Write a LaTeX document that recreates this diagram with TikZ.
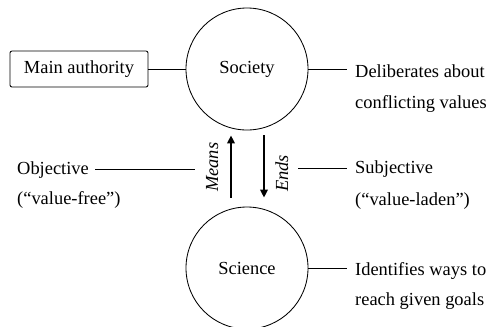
\documentclass[tikz,border=0pt]{standalone}
\usepackage{fontspec}
\setmainfont{Liberation Serif}
\usetikzlibrary{arrows.meta}
\begin{document}
\begin{tikzpicture}[x=1bp,y=-1bp,
  txt/.style={font=\fontsize{18.5}{22}\selectfont, inner sep=0pt, anchor=base west},
  itxt/.style={font=\fontsize{18.5}{22}\selectfont\itshape, inner sep=0pt, rotate=90, anchor=base west},
  conn/.style={line width=0.85bp},
  bigc/.style={circle, draw, line width=0.85bp, minimum size=122bp, inner sep=0pt, font=\fontsize{18.5}{22}\selectfont},
  arr/.style={line width=2.4bp, -{Triangle[length=8bp,width=7.5bp]}}]
\useasboundingbox (0,0) rectangle (490,326);
% circles
\node[bigc] (soc) at (247,69) {Society};
\node[bigc] (sci) at (247,268) {Science};
% main authority
\node[draw, rounded corners=2bp, line width=0.85bp, minimum width=138bp, minimum height=36bp,
      inner sep=0pt, font=\fontsize{18.5}{22}\selectfont] (auth) at (79,69) {Main authority};
\draw[conn] (auth.east) -- (auth.east -| soc.west);
% right texts
\node[txt] (d1) at (355,77) {Deliberates about};
\node[txt] (d2) at (355,108) {conflicting values};
\coordinate (dl) at (347,69);
\draw[conn] (soc.east) -- (dl);
\node[txt] (i1) at (355,275) {Identifies ways to};
\node[txt] (i2) at (355,305) {reach given goals};
\coordinate (il) at (347,268);
\draw[conn] (sci.east) -- (il);
% arrows
\draw[arr] ([shift={(-16,-9)}]sci.north) -- ([shift={(-16,5)}]soc.south);
\draw[arr] ([shift={(17,5)}]soc.south) -- ([shift={(17,-9)}]sci.north);
\node[itxt] (means) at (218,192) {Means};
\node[itxt] (ends) at (288,192) {Ends};
% objective / subjective
\node[txt] (o1) at (17,174) {Objective};
\node[txt] (o2) at (17,204) {(“value-free”)};
\coordinate (ol) at (195,169);
\draw[conn] ([xshift=6bp]o1.base east |- ol) -- (ol);
\node[txt] (s1) at (355,173) {Subjective};
\node[txt] (s2) at (355,205) {(“value-laden”)};
\coordinate (sl) at (347,168);
\draw[conn] (ends.south |- sl) ++(10,0) -- (sl);
\end{tikzpicture}
\end{document}
